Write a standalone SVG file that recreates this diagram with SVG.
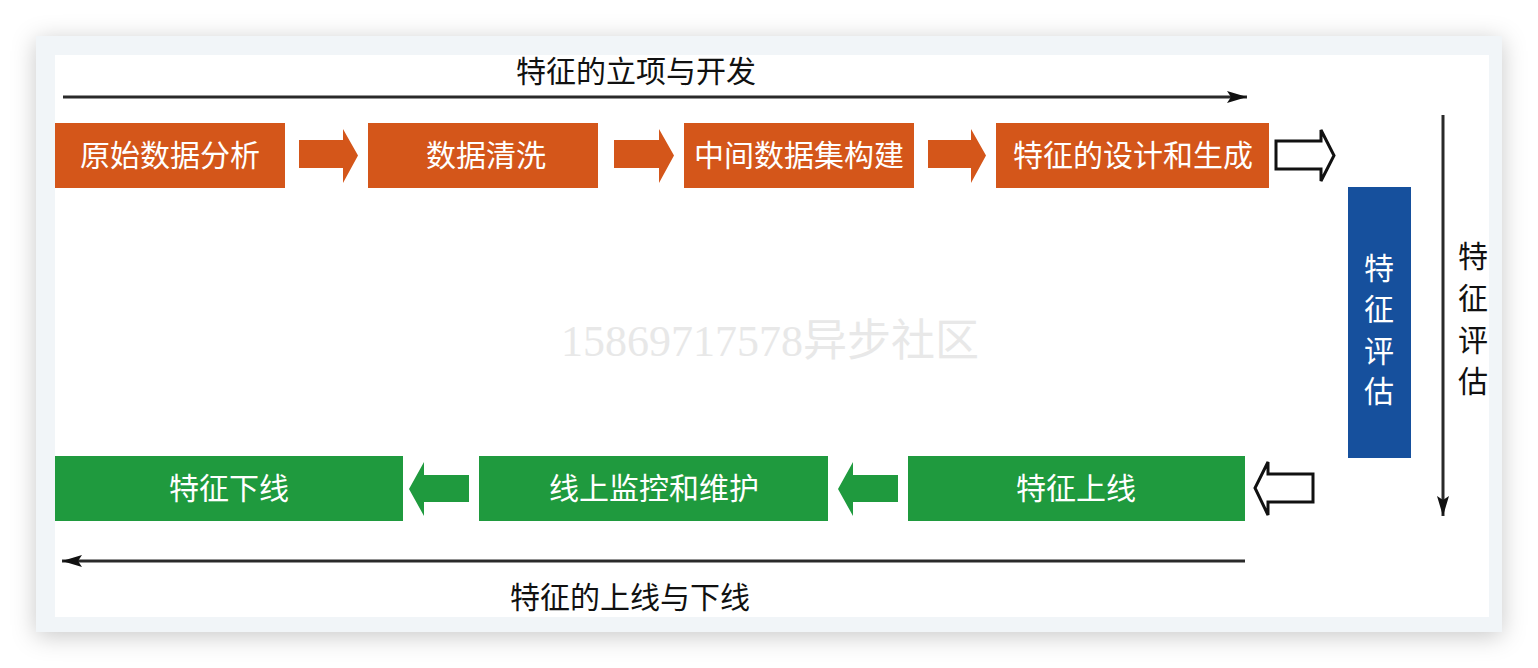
<svg xmlns="http://www.w3.org/2000/svg" width="1538" height="668" viewBox="0 0 1538 668">
  <defs>
    <filter id="cardShadow" x="-10%" y="-15%" width="120%" height="130%">
      <feDropShadow dx="0" dy="4" stdDeviation="12" flood-color="#000" flood-opacity="0.22"/>
    </filter>
    <marker id="headR" viewBox="0 0 20 12" refX="20" refY="6" markerWidth="20" markerHeight="12" markerUnits="userSpaceOnUse" orient="auto">
      <path d="M0,0 L20,6 L0,12 L4,6 Z" fill="#111"/>
    </marker>
  </defs>
  <style>
    .label { font-family: "Noto Sans CJK SC", "Liberation Sans", sans-serif; font-size: 30px; fill: #111; }
    .boxText { font-family: "Noto Sans CJK SC", "Liberation Sans", sans-serif; font-size: 30px; fill: #ffffff; }
    .orange { fill: #d4561a; }
    .green { fill: #1f9a3e; }
    .blue { fill: #16509d; }
    .flow { stroke: #2a2a2a; stroke-width: 3; fill: none; }
    .hollow { fill: #ffffff; stroke: #111; stroke-width: 3; stroke-linejoin: miter; }
    .watermark { font-family: "Liberation Serif", "Noto Sans CJK SC", serif; font-size: 44px; fill: #e8e8e8; }
  </style>

  <rect width="1538" height="668" fill="#ffffff"/>

  <!-- card frame -->
  <rect x="36" y="36" width="1466" height="596" fill="#f1f5f8" filter="url(#cardShadow)"/>
  <rect x="55" y="55" width="1434" height="562" fill="#ffffff"/>

  <!-- watermark -->
  <text class="watermark" x="770" y="356" text-anchor="middle">15869717578异步社区</text>

  <!-- phase labels -->
  <text class="label" x="636" y="82" text-anchor="middle">特征的立项与开发</text>
  <text class="label" x="630" y="608" text-anchor="middle">特征的上线与下线</text>
  <g id="eval-label">
    <text class="label" x="1473" y="267" text-anchor="middle">特</text>
    <text class="label" x="1473" y="309" text-anchor="middle">征</text>
    <text class="label" x="1473" y="351" text-anchor="middle">评</text>
    <text class="label" x="1473" y="392" text-anchor="middle">估</text>
  </g>

  <!-- connectors -->
  <g id="connectors">
    <line class="flow" x1="63" y1="97" x2="1247" y2="97" marker-end="url(#headR)"/>
    <line class="flow" x1="1443" y1="115" x2="1443" y2="516" marker-end="url(#headR)"/>
    <line class="flow" x1="1245" y1="561" x2="62" y2="561" marker-end="url(#headR)"/>

    <!-- solid block arrows, top row -->
    <path class="orange" d="M299,140 H343 V129 L358,155.5 L343,183 V168 H299 Z"/>
    <path class="orange" d="M614,140 H659 V129 L674,155.5 L659,183 V168 H614 Z"/>
    <path class="orange" d="M928,140 H971 V129 L986,155.5 L971,183 V168 H928 Z"/>

    <!-- hollow arrows at the turns -->
    <path class="hollow" d="M1276,141 H1321 V130 L1334,155.5 L1321,181 V169 H1276 Z"/>
    <path class="hollow" d="M1313,474 H1268 V462 L1255,488 L1268,515 V502 H1313 Z"/>

    <!-- solid block arrows, bottom row -->
    <path class="green" d="M469,475 H424 V462 L409,489 L424,516 V502 H469 Z"/>
    <path class="green" d="M898,475 H853 V462 L838,489 L853,516 V502 H898 Z"/>
  </g>

  <!-- development steps -->
  <g id="raw-analysis">
    <rect class="orange" x="55" y="123" width="230" height="65"/>
    <text class="boxText" x="170" y="166" text-anchor="middle">原始数据分析</text>
  </g>
  <g id="data-cleaning">
    <rect class="orange" x="368" y="123" width="230" height="65"/>
    <text class="boxText" x="486" y="166" text-anchor="middle">数据清洗</text>
  </g>
  <g id="intermediate-dataset">
    <rect class="orange" x="684" y="123" width="230" height="65"/>
    <text class="boxText" x="799" y="166" text-anchor="middle">中间数据集构建</text>
  </g>
  <g id="feature-design">
    <rect class="orange" x="996" y="123" width="273" height="65"/>
    <text class="boxText" x="1133" y="166" text-anchor="middle">特征的设计和生成</text>
  </g>

  <!-- evaluation -->
  <g id="feature-eval">
    <rect class="blue" x="1348" y="187" width="63" height="271"/>
    <text class="boxText" x="1379" y="279" text-anchor="middle">特</text>
    <text class="boxText" x="1379" y="320" text-anchor="middle">征</text>
    <text class="boxText" x="1379" y="362" text-anchor="middle">评</text>
    <text class="boxText" x="1379" y="402" text-anchor="middle">估</text>
  </g>

  <!-- operation steps -->
  <g id="feature-online">
    <rect class="green" x="908" y="456" width="337" height="65"/>
    <text class="boxText" x="1076" y="499" text-anchor="middle">特征上线</text>
  </g>
  <g id="monitoring">
    <rect class="green" x="479" y="456" width="349" height="65"/>
    <text class="boxText" x="654" y="499" text-anchor="middle">线上监控和维护</text>
  </g>
  <g id="feature-offline">
    <rect class="green" x="55" y="456" width="348" height="65"/>
    <text class="boxText" x="229" y="499" text-anchor="middle">特征下线</text>
  </g>
</svg>
